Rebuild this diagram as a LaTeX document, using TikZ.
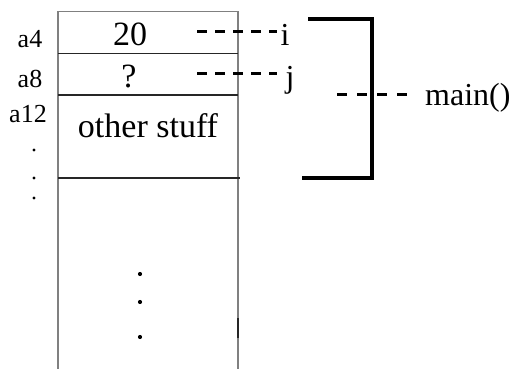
\documentclass[tikz,border=0pt]{standalone}
\usepackage{fontspec}
\setmainfont{Liberation Serif}
\begin{document}
\begin{tikzpicture}[x=1pt,y=-1pt,
  boxline/.style={draw=black!50, line width=1.8pt},
  rowline/.style={draw=black!85, line width=1.5pt},
  dashconn/.style={draw=black, line width=3pt, dash pattern=on 10pt off 8pt},
  bracket/.style={draw=black, line width=3.2pt},
  big/.style={inner sep=0pt, anchor=base, font=\fontsize{34}{38}\selectfont},
  addr/.style={inner sep=0pt, anchor=base, font=\fontsize{26}{30}\selectfont},
  lbl/.style={inner sep=0pt, anchor=base, font=\fontsize{32}{36}\selectfont},
  dotmark/.style={circle, fill=black, inner sep=0pt, minimum size=4.2pt},
  smalldot/.style={circle, fill=black, inner sep=0pt, minimum size=3.4pt}]
\useasboundingbox (0,0) rectangle (515,369);
% memory column
\draw[boxline] (58,369) -- (58,11.5) -- (238,11.5) -- (238,369);
\draw[rowline] (58,53.5) -- (238,53.5);
\draw[rowline] (58,95) -- (238,95);
\draw[rowline] (58,178) -- (240,178);
\draw[draw=black!85, line width=1.8pt] (238,318) -- (238,338);
% cell contents
\node[big] (v20) at (130,46) {20};
\node[big] (vq) at (129,88) {?};
\node[big] (vother) at (148,138) {other stuff};
% addresses
\node[addr] (a4) at (30,48) {a4};
\node[addr] (a8) at (30,88) {a8};
\node[addr] (a12) at (28,123) {a12};
\node[smalldot] (ld1) at (34,150) {};
\node[smalldot] (ld2) at (34,178) {};
\node[smalldot] (ld3) at (34,198) {};
% dots inside column
\node[dotmark] (cd1) at (140,274) {};
\node[dotmark] (cd2) at (140,302) {};
\node[dotmark] (cd3) at (140,337) {};
% variable names
\node[lbl] (vi) at (285,46) {i};
\node[lbl] (vj) at (290,88) {j};
\coordinate (ci) at (197,32);
\coordinate (cj) at (197,74);
\draw[dashconn] (ci) -- (277,32);
\draw[dashconn] (cj) -- (277,74);
% bracket for main()
\coordinate (bt) at (308,19);
\coordinate (btr) at (372,19);
\coordinate (bbr) at (372,178);
\coordinate (bb) at (302,178);
\draw[bracket] (bt) -- (btr) -- (bbr) -- (bb);
\node[lbl, anchor=base west] (vmain) at (425,106) {main()};
\coordinate (cm) at (337,95);
\draw[dashconn, dash pattern=on 10pt off 10pt] (cm) -- (412,95);
\end{tikzpicture}
\end{document}
